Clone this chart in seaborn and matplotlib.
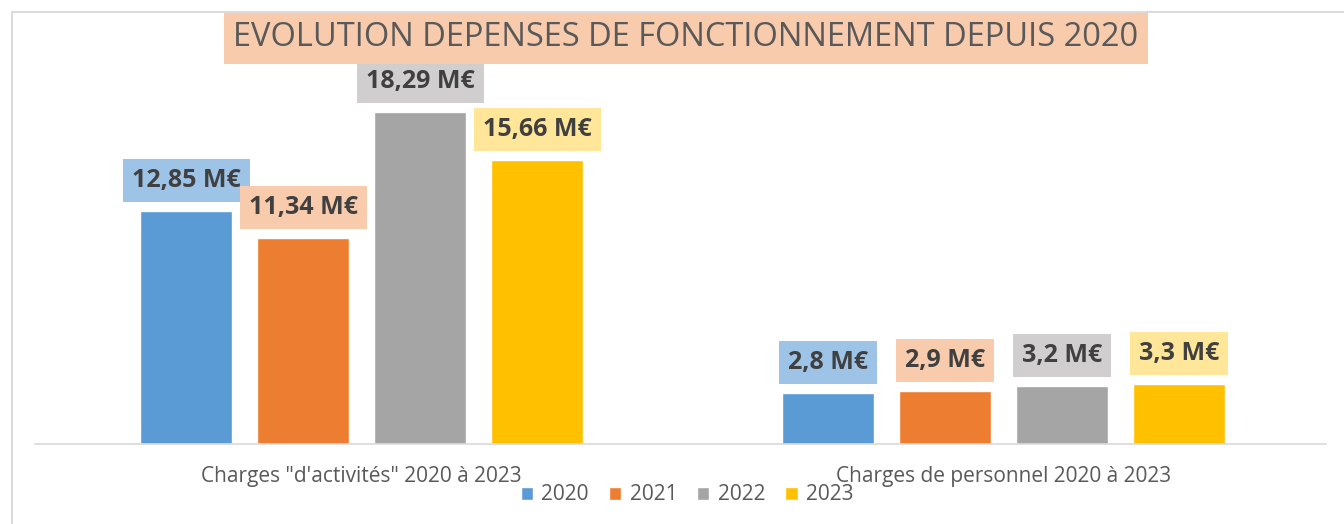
import numpy as np
import pandas as pd
import seaborn as sns
import matplotlib.pyplot as plt
from matplotlib.lines import Line2D

# values in millions of euros
categories = ['Charges "d\'activités" 2020 à 2023', 'Charges de personnel 2020 à 2023']
years = ['2020', '2021', '2022', '2023']
val_2020 = [12.85, 2.8]
val_2021 = [11.34, 2.9]
val_2022 = [18.29, 3.2]
val_2023 = [15.66, 3.3]

bar_colors = ['#5B9BD5', '#ED7D31', '#A5A5A5', '#FFC000']
box_colors = ['#9DC3E6', '#F8CBAD', '#D0CECE', '#FFE699']

rows = []
for yr, vals in zip(years, [val_2020, val_2021, val_2022, val_2023]):
    for cat, v in zip(categories, vals):
        rows.append({'categorie': cat, 'annee': yr, 'valeur': v})
df = pd.DataFrame(rows)

sns.set_style('white')
plt.rcParams['font.family'] = ['Open Sans', 'DejaVu Sans']

W, H = 1344, 524
fig = plt.figure(figsize=(W / 100, H / 100), dpi=100)
ax = fig.add_axes([35 / W, 1 - 444 / H, 1291 / W, 362.6 / H])

sns.barplot(data=df, x='categorie', y='valeur', hue='annee', order=categories,
            hue_order=years, palette=bar_colors, width=0.729, gap=0.214,
            saturation=1, ax=ax, legend=True)

ax.set_ylim(0, 20)
ax.set_xlim(-0.509, 1.502)
ax.set_xlabel('')
ax.set_ylabel('')
ax.set_yticks([])
ax.tick_params(axis='x', length=0, pad=16, labelsize=15, labelcolor='#595959')
for s in ['top', 'left', 'right']:
    ax.spines[s].set_visible(False)
ax.spines['bottom'].set_color('#D9D9D9')
ax.spines['bottom'].set_linewidth(1.2)

for cont, bc in zip(ax.containers, box_colors):
    labels = [f"{v:g}".replace('.', ',') + ' M€' for v in cont.datavalues]
    ax.bar_label(cont, labels=labels, padding=13, fontsize=18, fontweight='bold',
                 color='#404040',
                 bbox=dict(boxstyle='square,pad=0.36', fc=bc, ec='none'))

handles, labs = ax.get_legend_handles_labels()
ax.get_legend().remove()
fig.legend(handles, labs, loc='center', bbox_to_anchor=(687 / W, 1 - 495 / H),
           ncol=4, frameon=False, fontsize=15, labelcolor='#595959',
           handlelength=0.6, handleheight=0.6, handletextpad=0.4,
           columnspacing=0.95)

fig.text(686 / W, 1 - 38 / H, 'EVOLUTION DEPENSES DE FONCTIONNEMENT DEPUIS 2020',
         ha='center', va='center', fontsize=23.5, color='#595959',
         bbox=dict(boxstyle='square,pad=0.3', fc='#F8CBAD', ec='none'), zorder=1)

# chart frame (partly visible)
fig.add_artist(Line2D([11.5 / W, 1], [1 - 11.5 / H] * 2, color='#D9D9D9', lw=1.3))
fig.add_artist(Line2D([11.5 / W] * 2, [0, 1 - 11.5 / H], color='#D9D9D9', lw=1.3))

fig.savefig('out.png', dpi=100)
